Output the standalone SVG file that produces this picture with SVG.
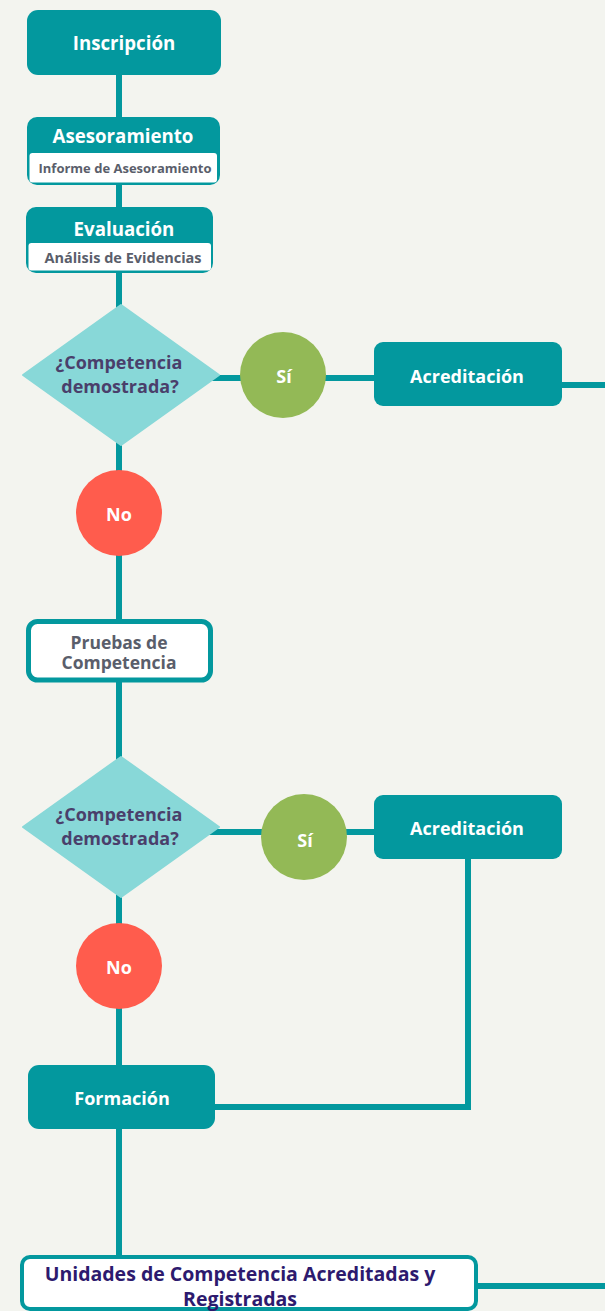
<svg xmlns="http://www.w3.org/2000/svg" width="605" height="1311" viewBox="0 0 605 1311">
<style>
.t{font-family:"Open Sans","Noto Sans","DejaVu Sans",sans-serif;font-weight:700;text-anchor:middle;dominant-baseline:central}
.w{fill:#ffffff;font-size:18px}
.h{font-size:18.7px}
.g{fill:#5a5e6b}
.d{fill:#4a3f6b;font-size:18px}
.box{fill:#03989e}
.con{stroke:#03989e;stroke-width:6;fill:none}
</style>
<rect width="605" height="1311" fill="#f3f4ef"/>
<g id="connectors">
<line class="con" x1="119" y1="70" x2="119" y2="1258"/>
<line class="con" x1="150" y1="378" x2="380" y2="378"/>
<line class="con" x1="555" y1="385" x2="605" y2="385"/>
<line class="con" x1="150" y1="832" x2="380" y2="832"/>
<polyline class="con" points="468,855 468,1107 210,1107"/>
<line class="con" x1="470" y1="1286" x2="605" y2="1286"/>
</g>
<g id="inscripcion">
<rect class="box" x="27" y="10" width="194" height="65" rx="11"/>
<text class="t w h" x="124" y="42">Inscripción</text>
</g>
<g id="asesoramiento">
<rect class="box" x="27" y="117" width="193" height="68" rx="10"/>
<rect x="29.5" y="153" width="187.5" height="29.5" rx="3" fill="#ffffff"/>
<text class="t w h" x="123" y="135">Asesoramiento</text>
<text class="t g" x="125" y="168" font-size="13">Informe de Asesoramiento</text>
</g>
<g id="evaluacion">
<rect class="box" x="26" y="207" width="187" height="66" rx="10"/>
<rect x="28.5" y="243" width="182.5" height="27.5" rx="3" fill="#ffffff"/>
<text class="t w h" x="124" y="228">Evaluación</text>
<text class="t g" x="123" y="257" font-size="14.5">Análisis de Evidencias</text>
</g>
<g id="decision1">
<polygon points="121,305 219,375 121,445 23,375" fill="#88d8d8" stroke="#88d8d8" stroke-width="2" stroke-linejoin="round"/>
<text class="t d" x="119" y="362">¿Competencia</text>
<text class="t d" x="120" y="386">demostrada?</text>
</g>
<g id="si1">
<circle cx="283" cy="375" r="43" fill="#93b956"/>
<text class="t w" x="284" y="376">Sí</text>
</g>
<g id="acreditacion1">
<rect class="box" x="374" y="342" width="188" height="64" rx="9"/>
<text class="t w" x="467" y="376">Acreditación</text>
</g>
<g id="no1">
<circle cx="119" cy="513" r="43" fill="#ff5c4d"/>
<text class="t w" x="119" y="514">No</text>
</g>
<g id="pruebas">
<rect x="28.5" y="621.5" width="182" height="58.5" rx="9" fill="#ffffff" stroke="#03989e" stroke-width="5"/>
<text class="t g" x="119" y="641.5" font-size="17.5">Pruebas de</text>
<text class="t g" x="119" y="661.5" font-size="17.5">Competencia</text>
</g>
<g id="decision2">
<polygon points="121,757 219,827 121,897 23,827" fill="#88d8d8" stroke="#88d8d8" stroke-width="2" stroke-linejoin="round"/>
<text class="t d" x="119" y="814">¿Competencia</text>
<text class="t d" x="120" y="838">demostrada?</text>
</g>
<g id="si2">
<circle cx="304" cy="837" r="43" fill="#93b956"/>
<text class="t w" x="305" y="840">Sí</text>
</g>
<g id="acreditacion2">
<rect class="box" x="374" y="795" width="188" height="64" rx="9"/>
<text class="t w" x="467" y="828">Acreditación</text>
</g>
<g id="no2">
<circle cx="119" cy="966" r="43" fill="#ff5c4d"/>
<text class="t w" x="119" y="967">No</text>
</g>
<g id="formacion">
<rect class="box" x="28" y="1065" width="187" height="64" rx="11"/>
<text class="t w" x="122" y="1098">Formación</text>
</g>
<g id="unidades">
<rect x="22" y="1257" width="454" height="52" rx="8" fill="#ffffff" stroke="#03989e" stroke-width="4"/>
<text class="t" x="240" y="1273" font-size="19.5" fill="#2d1a6e">Unidades de Competencia Acreditadas y</text>
<text class="t" x="240" y="1298" font-size="19.5" fill="#2d1a6e">Registradas</text>
</g>
</svg>
